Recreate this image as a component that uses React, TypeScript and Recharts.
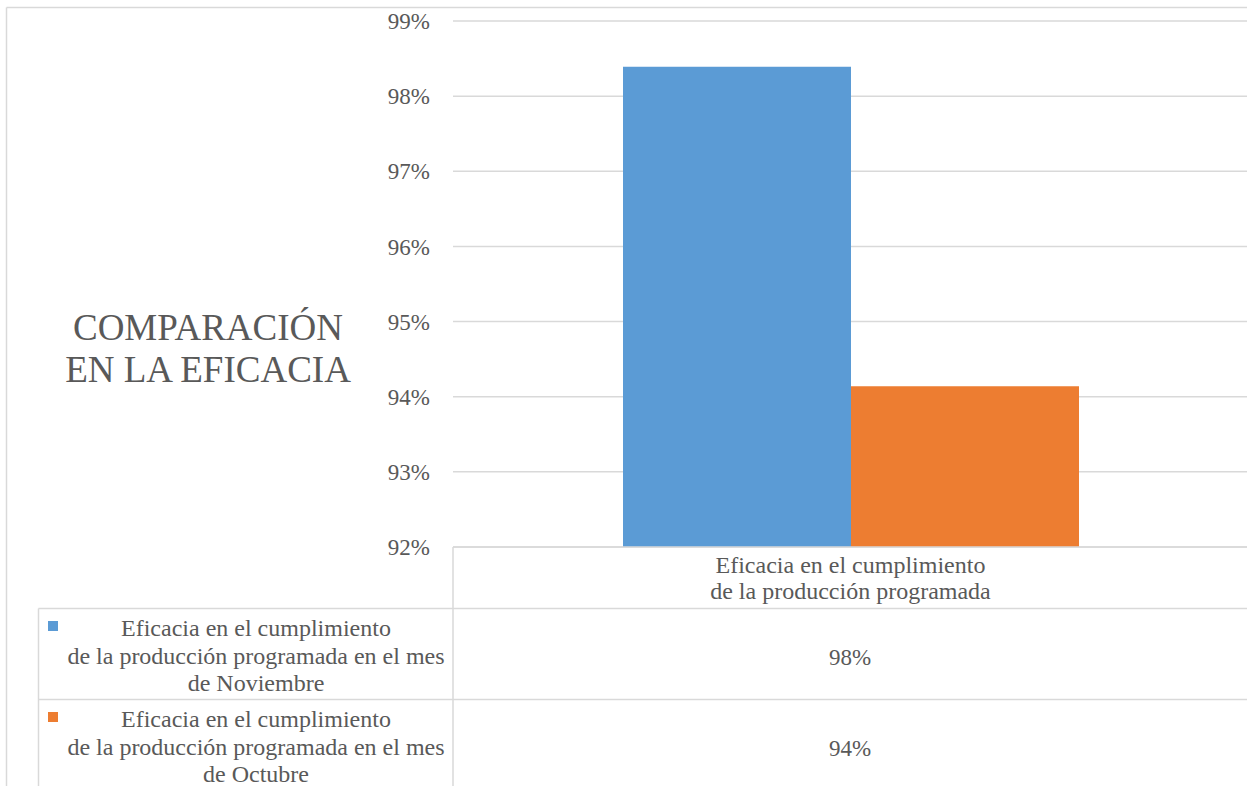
import { BarChart, Bar, XAxis, YAxis, CartesianGrid } from 'recharts'

// values (fraction of 1)
const categories = [['Eficacia en el cumplimiento', 'de la producción programada']]
const noviembre = [0.9839]
const octubre = [0.9414]
const yTicks = [0.92, 0.93, 0.94, 0.95, 0.96, 0.97, 0.98, 0.99]
const seriesLabels = [
  ['Eficacia en el cumplimiento', 'de la producción programada en el mes', 'de Noviembre'],
  ['Eficacia en el cumplimiento', 'de la producción programada en el mes', 'de Octubre'],
]
const seriesValues = [noviembre, octubre]
const colors = ['#5B9BD5', '#ED7D31']
const titleLines = ['COMPARACIÓN', 'EN LA EFICACIA']

const FONT = "'Liberation Serif', 'Times New Roman', serif"
const TEXT = '#595959'
const LINE = '#d9d9d9'
const pct = (v: number) => `${Math.round(v * 100)}%`

const data = categories.map((c, i) => ({ name: c.join(' '), nov: noviembre[i], oct: octubre[i] }))

function CategoryTick(props: any) {
  const { x, y, index } = props
  const lines = categories[index] || []
  return (
    <text x={x} y={y} textAnchor="middle" fill={TEXT} fontSize={24} fontFamily={FONT}>
      {lines.map((l, i) => (
        <tspan key={i} x={x} dy={i === 0 ? 18 : 26}>{l}</tspan>
      ))}
    </text>
  )
}

export default function App() {
  return (
    <div style={{ position: 'absolute', left: 0, top: 0, width: 1247, height: 786, overflow: 'hidden', background: '#fff' }}>
      <BarChart
        width={1262}
        height={800}
        data={data}
        margin={{ top: 21, right: 14, left: 0, bottom: 223 }}
        barCategoryGap={170}
        barGap={0}
      >
        <CartesianGrid vertical={false} stroke={LINE} strokeWidth={1.5} />
        <XAxis
          dataKey="name"
          height={30}
          axisLine={{ stroke: LINE, strokeWidth: 1.5 }}
          tickLine={false}
          tick={<CategoryTick />}
          interval={0}
        />
        <YAxis
          width={453}
          domain={[0.92, 0.99]}
          ticks={yTicks}
          tickFormatter={pct}
          axisLine={false}
          tickLine={false}
          tickMargin={17}
          allowDataOverflow
          tick={{ fill: TEXT, fontSize: 23, fontFamily: FONT }}
        />
        <Bar dataKey="nov" fill={colors[0]} isAnimationActive={false} />
        <Bar dataKey="oct" fill={colors[1]} isAnimationActive={false} />
      </BarChart>

      <svg width={1247} height={786} style={{ position: 'absolute', left: 0, top: 0, pointerEvents: 'none' }}>
        <g stroke={LINE} strokeWidth={1.5} fill="none">
          <line x1={6.5} y1={7.5} x2={1247} y2={7.5} />
          <line x1={6.5} y1={7.5} x2={6.5} y2={786} />
          <line x1={453} y1={547} x2={453} y2={786} />
          <line x1={38.5} y1={608.5} x2={1247} y2={608.5} />
          <line x1={38.5} y1={608.5} x2={38.5} y2={786} />
          <line x1={38.5} y1={699.5} x2={1247} y2={699.5} />
        </g>
        <g fill={TEXT} fontFamily={FONT}>
          <text x={208} y={340} textAnchor="middle" fontSize={37}>
            {titleLines.map((l, i) => (
              <tspan key={i} x={208} dy={i === 0 ? 0 : 42}>{l}</tspan>
            ))}
          </text>
          {seriesLabels.map((lines, s) => {
            const top = 608 + s * 91
            return (
              <g key={s}>
                <rect x={48} y={top + 13} width={10} height={10} fill={colors[s]} />
                <text x={256} y={top + 28} textAnchor="middle" fontSize={24}>
                  {lines.map((l, i) => (
                    <tspan key={i} x={256} dy={i === 0 ? 0 : 27.5}>{l}</tspan>
                  ))}
                </text>
                <text x={850} y={top + 57} textAnchor="middle" fontSize={23}>
                  {pct(seriesValues[s][0])}
                </text>
              </g>
            )
          })}
        </g>
      </svg>
    </div>
  )
}
